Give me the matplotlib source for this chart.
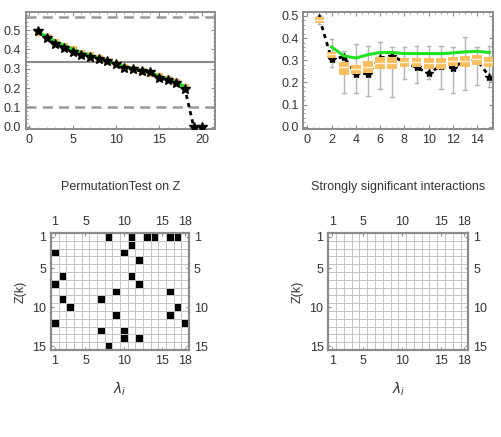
import numpy as np
import matplotlib
matplotlib.use("Agg")
import matplotlib.pyplot as plt
from matplotlib.colors import ListedColormap

# ---- data ----
# top-left: eigenvalue decay
lam_x = list(range(1, 21))
lam_obs = [0.495, 0.457, 0.428, 0.409, 0.386, 0.371, 0.362, 0.352, 0.338, 0.324,
           0.302, 0.298, 0.286, 0.283, 0.250, 0.240, 0.224, 0.193, 0.0, 0.0]
lam_perm = [0.49, 0.465, 0.44, 0.42, 0.40, 0.38, 0.37, 0.355, 0.34, 0.325,
            0.31, 0.30, 0.29, 0.28, 0.26, 0.245, 0.23, 0.205]
lam_perm_err = [0.02, 0.015, 0.015, 0.012, 0.012, 0.012, 0.01, 0.01, 0.01, 0.01,
                0.01, 0.01, 0.012, 0.012, 0.015, 0.015, 0.02, 0.025]
ref_solid = 1 / 3
ref_dashed = [0.567, 0.1]

# top-right: box-whisker summary per component
box_x = list(range(1, 16))
box_med = [0.482, 0.327, 0.271, 0.260, 0.271, 0.289, 0.289, 0.294, 0.294, 0.286,
           0.286, 0.297, 0.297, 0.304, 0.294]
box_q1 = [0.470, 0.309, 0.233, 0.236, 0.241, 0.260, 0.260, 0.268, 0.268, 0.262,
          0.262, 0.272, 0.268, 0.278, 0.268]
box_q3 = [0.494, 0.339, 0.294, 0.280, 0.297, 0.316, 0.316, 0.312, 0.312, 0.310,
          0.308, 0.316, 0.318, 0.323, 0.316]
box_lo = [0.462, 0.271, 0.154, 0.154, 0.139, 0.169, 0.133, 0.214, 0.199, 0.215,
          0.170, 0.154, 0.166, 0.188, 0.178]
box_hi = [0.502, 0.396, 0.340, 0.372, 0.364, 0.381, 0.358, 0.358, 0.366, 0.366,
          0.366, 0.361, 0.407, 0.358, 0.364]
green_x = list(range(2, 16))
green_y = [0.36, 0.32, 0.31, 0.325, 0.335, 0.335, 0.33, 0.33, 0.33, 0.33,
           0.333, 0.338, 0.34, 0.335]
star_y = [0.49, 0.305, 0.315, 0.238, 0.24, 0.31, 0.32, 0.29, 0.268, 0.241,
          0.275, 0.265, 0.30, 0.30, 0.226]

# bottom-left: significant (row, col) cells, 1-based
sig_cells = [(1, 8), (1, 11), (1, 13), (1, 14), (1, 16), (1, 17),
             (2, 11), (3, 1), (3, 10), (4, 12), (6, 2), (6, 11),
             (7, 1), (7, 12), (8, 9), (8, 16), (9, 2), (9, 7),
             (10, 3), (10, 17), (11, 9), (11, 16), (12, 1), (12, 18),
             (13, 7), (13, 10), (14, 10), (14, 12), (15, 8)]
n_rows, n_cols = 15, 18
x_ticks = [1, 5, 10, 15, 18]
y_ticks = [1, 5, 10, 15]

FRAME = '#8c8c8c'
TXT = '#333333'
ORANGE = '#F9BF5E'
GREEN = '#22E022'

plt.rcParams['font.family'] = ['Liberation Sans', 'DejaVu Sans']
fig = plt.figure(figsize=(5.01, 4.37), dpi=100)


def style_frame(ax):
    for s in ax.spines.values():
        s.set_color(FRAME)
        s.set_linewidth(1.4)
    ax.tick_params(colors=FRAME, labelcolor=TXT, labelsize=9, direction='in',
                   length=3, width=0.8, top=True, right=True)
    ax.tick_params(which='minor', direction='in', length=1.5, width=0.6,
                   colors=FRAME, top=True, right=True)


# ---- top-left ----
ax1 = fig.add_axes([0.0513, 0.7055, 0.378, 0.2677])
ax1.axhline(ref_solid, color='#8a8a8a', lw=1.5, zorder=1)
for v in ref_dashed:
    ax1.axhline(v, color='#9a9a9a', lw=1.8, ls=(0, (4, 2.5)), zorder=1)
ax1.errorbar(lam_x[:18], lam_perm, yerr=lam_perm_err, fmt='s', ms=4.5,
             color=ORANGE, ecolor='#b0b0b0', elinewidth=0.8, zorder=2)
ax1.plot(lam_x[:18], lam_perm, color=GREEN, lw=2.5, zorder=3)
ax1.plot(lam_x, lam_obs, color='black', lw=2, ls=(0, (1.5, 1.5)), zorder=4)
ax1.plot(lam_x, lam_obs, '*', color='black', ms=7.5, zorder=5)
ax1.set_xlim(-0.42, 21.47)
ax1.set_ylim(-0.01, 0.595)
ax1.set_xticks([0, 5, 10, 15, 20])
ax1.set_yticks([0.0, 0.1, 0.2, 0.3, 0.4, 0.5])
ax1.set_yticklabels(['0.0', '0.1', '0.2', '0.3', '0.4', '0.5'])
ax1.set_xticks(np.arange(0, 21, 1), minor=True)
ax1.set_yticks(np.arange(0, 0.6, 0.02), minor=True)
style_frame(ax1)

# ---- top-right ----
ax2 = fig.add_axes([0.6054, 0.7055, 0.3786, 0.2677])
ax2.plot(box_x + [15.6], star_y + [0.19], color='black', lw=2,
         ls=(0, (1.5, 1.5)), zorder=2)
ax2.plot(box_x, star_y, '*', color='black', ms=6, zorder=2)
bw = 0.8
for x, lo, q1, md, q3, hi in zip(box_x, box_lo, box_q1, box_med, box_q3, box_hi):
    ax2.plot([x, x], [lo, hi], color='#b5b5b5', lw=1, zorder=1)
    ax2.plot([x - 0.15, x + 0.15], [lo, lo], color='#b5b5b5', lw=1, zorder=1)
    ax2.plot([x - 0.15, x + 0.15], [hi, hi], color='#b5b5b5', lw=1, zorder=1)
    ax2.add_patch(plt.Rectangle((x - bw / 2, q1), bw, q3 - q1, facecolor=ORANGE,
                                edgecolor='none', zorder=3))
    ax2.plot([x - bw / 2, x + bw / 2], [md, md], color='#fff2d8', lw=1, zorder=4)
ax2.plot(green_x, green_y, color=GREEN, lw=2.2, zorder=5)
ax2.set_xlim(-0.33, 15.3)
ax2.set_ylim(-0.009, 0.519)
ax2.set_xticks(range(0, 15, 2))
ax2.set_yticks([0.0, 0.1, 0.2, 0.3, 0.4, 0.5])
ax2.set_yticklabels(['0.0', '0.1', '0.2', '0.3', '0.4', '0.5'])
ax2.set_xticks(np.arange(0, 15.5, 0.5), minor=True)
ax2.set_yticks(np.arange(0, 0.52, 0.02), minor=True)
style_frame(ax2)

fig.text(0.24, 1 - 187 / 437, 'PermutationTest on Z', ha='center', va='center',
         fontsize=9, color=TXT)
fig.text(0.794, 1 - 187 / 437, 'Strongly significant interactions', ha='center',
         va='center', fontsize=9, color=TXT)


# ---- bottom matrices ----
def draw_matrix(ax, cells):
    grid = np.zeros((n_rows, n_cols))
    for r, c in cells:
        grid[r - 1, c - 1] = 1
    ax.pcolormesh(np.arange(0.5, n_cols + 1), np.arange(0.5, n_rows + 1), grid,
                  cmap=ListedColormap(['white', 'black']), vmin=0, vmax=1,
                  edgecolors='#c4c4c4', linewidth=0.5)
    ax.set_xlim(0.5, n_cols + 0.5)
    ax.set_ylim(n_rows + 0.5, 0.5)
    ax.set_xticks(x_ticks)
    ax.set_yticks(y_ticks)
    for s in ax.spines.values():
        s.set_color(FRAME)
        s.set_linewidth(1.6)
    ax.tick_params(colors=FRAME, labelcolor=TXT, labelsize=9, direction='in',
                   length=2.5, top=True, right=True, labeltop=True,
                   labelright=True)
    ax.set_ylabel('Z(k)', fontsize=9, color=TXT, labelpad=4)
    ax.set_xlabel(r'$\lambda_i$', fontsize=10, color=TXT, labelpad=10)


ax3 = fig.add_axes([0.1018, 0.1991, 0.2754, 0.2677])
draw_matrix(ax3, sig_cells)
ax4 = fig.add_axes([0.6553, 0.1991, 0.2794, 0.2677])
draw_matrix(ax4, [])

fig.savefig('out.png', dpi=100)
